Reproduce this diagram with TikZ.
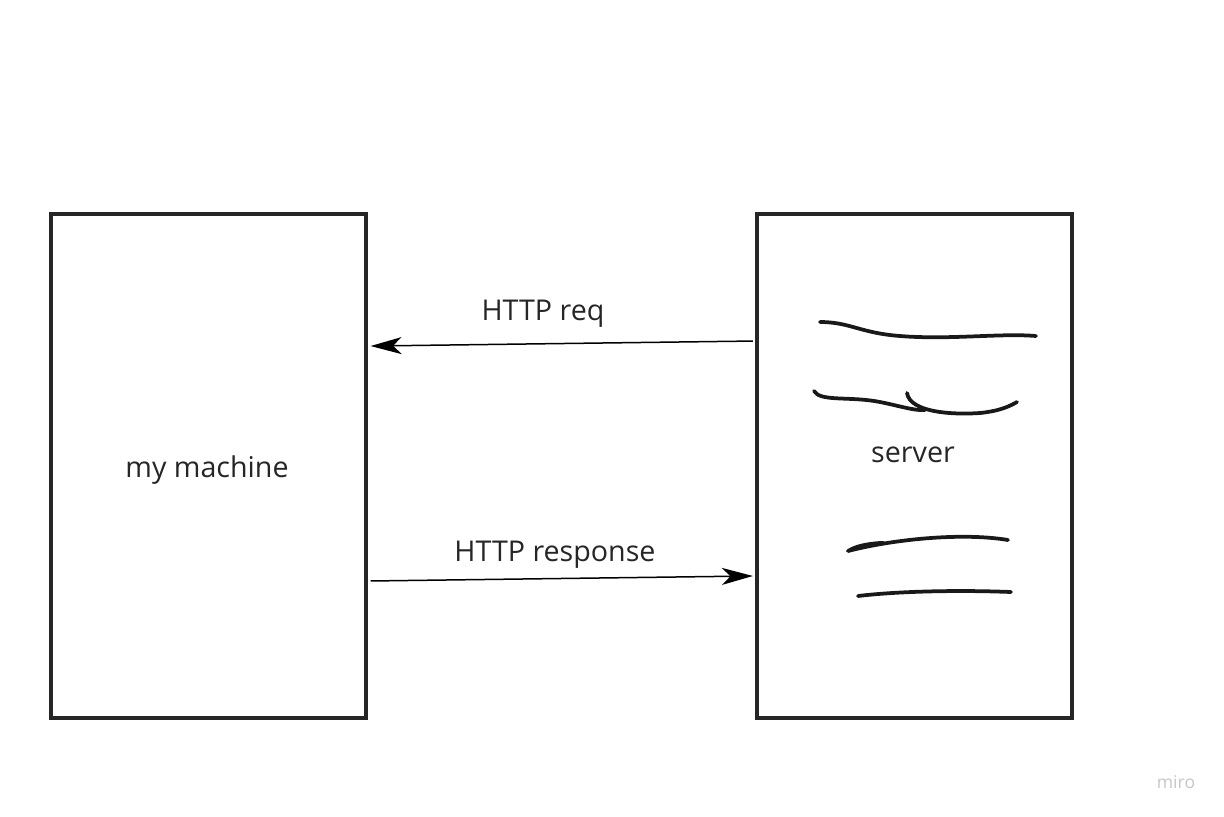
\documentclass[tikz,border=0pt]{standalone}
\usepackage{fontspec}
\setmainfont{Open Sans}
\usetikzlibrary{arrows.meta,positioning}

\tikzset{
  hostbox/.style={draw=black!85,line width=0.065cm,minimum width=6.3cm,minimum height=10.08cm,inner sep=0pt},
  msgarrow/.style={line width=0.03cm,-{Stealth[length=0.62cm,width=0.34cm,inset=0.17cm]}},
  msglabel/.style={font=\fontsize{16.3}{19}\selectfont,text=black!85},
  scribble/.style={line width=0.075cm,line cap=round,black!90}
}

\begin{document}
\begin{tikzpicture}[x=0.02cm,y=-0.02cm]
\useasboundingbox (0,0) rectangle (1224,816);
\fill[white] (0,0) rectangle (1224,816);
% the two hosts
\node[hostbox,label={[msglabel,xshift=-0.03cm,yshift=-0.08cm]center:my machine}] (machine) at (208.5,466) {};
\node[hostbox] (server) at (914.5,466) {};
\node[msglabel] (server_txt) at (913,455) {server};
% messages
\draw[msgarrow] ([xshift=-0.05cm,yshift=2.5cm]server.west) -- ([xshift=0.06cm,yshift=2.4cm]machine.east);
\draw[msgarrow] ([xshift=0.06cm,yshift=-2.3cm]machine.east) -- ([xshift=-0.05cm,yshift=-2.2cm]server.west);
\node[msglabel] (req_txt) at (543,314) {HTTP req};
\node[msglabel] (resp_txt) at (555,555) {HTTP response};
% hand-drawn lines inside the server
\draw[scribble] (820,322) .. controls (850,322) and (860,333) .. (900,336) .. controls (950,340) and (1000,333) .. (1036,336);
\draw[scribble] (814,391) .. controls (820,402) and (850,396) .. (880,402) .. controls (900,406) and (915,411) .. (925,410);
\draw[scribble] (907,393) .. controls (910,412) and (950,415) .. (980,413) .. controls (1000,411) and (1010,406) .. (1017,402);
\draw[scribble] (848,551) .. controls (890,540) and (960,532) .. (1008,540);
\fill[black!90] (846,551) .. controls (850,545) and (870,541) .. (885,541) .. controls (875,546) and (860,551) .. (846,551) -- cycle;
\draw[scribble] (858,596) .. controls (900,591) and (960,590) .. (1011,592);
% watermark
\node[font=\fontsize{10}{12}\selectfont,text=black!22] (miro_txt) at (1176,782) {miro};
\end{tikzpicture}
\end{document}
